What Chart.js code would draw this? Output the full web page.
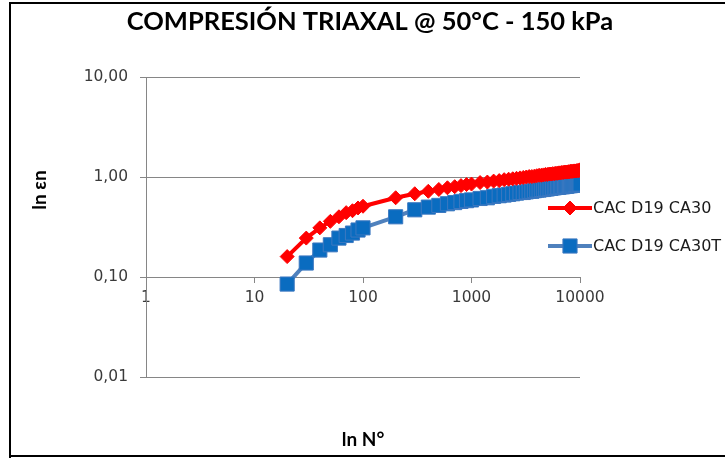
<!DOCTYPE html>
<html>
<head>
<meta charset="utf-8">
<script src="https://cdn.jsdelivr.net/npm/chart.js@4/dist/chart.umd.min.js"></script>
<style>
  body { margin: 0; background: #fff; }
  #wrap { position: relative; width: 725px; height: 458px; }
</style>
</head>
<body>
<div id="wrap"><canvas id="chartCompresion" width="725" height="458"></canvas></div>
<script>
// ciclos (N)
const ciclos = [20, 30, 40, 50, 60, 70, 80, 90, 100,
  200, 300, 400, 500, 600, 700, 800, 900,
  1000, 1200, 1400, 1600, 1800, 2000, 2200, 2400, 2600, 2800,
  3000, 3200, 3400, 3600, 3800, 4000, 4200, 4400, 4600, 4800,
  5000, 5200, 5400, 5600, 5800, 6000, 6200, 6400, 6600, 6800,
  7000, 7200, 7400, 7600, 7800, 8000, 8200, 8400, 8600, 8800,
  9000, 9200, 9400, 9600, 9800, 10000];

const ca30 = [0.16, 0.245, 0.31, 0.36, 0.40, 0.44, 0.46, 0.49, 0.51,
  0.62, 0.68, 0.72, 0.75, 0.78, 0.80, 0.82, 0.84,
  0.85, 0.88, 0.89, 0.91, 0.92, 0.94, 0.95, 0.96, 0.97, 0.98,
  0.99, 1.00, 1.01, 1.01, 1.02, 1.03, 1.04, 1.04, 1.05, 1.06,
  1.06, 1.07, 1.07, 1.08, 1.08, 1.09, 1.09, 1.10, 1.10, 1.11,
  1.11, 1.12, 1.12, 1.12, 1.13, 1.13, 1.14, 1.14, 1.14, 1.15,
  1.15, 1.15, 1.16, 1.16, 1.16, 1.18];

const ca30t = [0.085, 0.138, 0.186, 0.21, 0.245, 0.26, 0.275, 0.295, 0.31,
  0.40, 0.47, 0.50, 0.52, 0.54, 0.555, 0.57, 0.58,
  0.59, 0.61, 0.62, 0.64, 0.65, 0.66, 0.67, 0.68, 0.69, 0.70,
  0.70, 0.71, 0.72, 0.72, 0.73, 0.74, 0.74, 0.75, 0.75, 0.76,
  0.76, 0.77, 0.77, 0.78, 0.78, 0.79, 0.79, 0.79, 0.80, 0.80,
  0.80, 0.81, 0.81, 0.81, 0.82, 0.82, 0.82, 0.83, 0.83, 0.83,
  0.84, 0.84, 0.84, 0.84, 0.85, 0.85];

const xTicks = [1, 10, 100, 1000, 10000];
const yTicks = [0.01, 0.1, 1, 10];

const series = [
  { label: 'CAC D19 CA30', values: ca30, line: '#ff0000', fill: '#ff0000', border: '#ff0000', style: 'rectRot', radius: 7 },
  { label: 'CAC D19 CA30T', values: ca30t, line: '#4f81bd', fill: '#0a6cc0', border: '#3c78c0', style: 'rect', radius: 10 }
];

function toPoints(vals) {
  return ciclos.map((n, i) => ({ x: n, y: vals[i] }));
}

// titulo, ejes, leyenda y marco
const extras = {
  id: 'extras',
  afterDraw(chart) {
    const ctx = chart.ctx;
    ctx.save();
    ctx.fillStyle = '#000';
    ctx.fillRect(9, 2, 716, 2);
    ctx.fillRect(9, 2, 2, 456);
    ctx.fillRect(9, 455, 716, 2);

    ctx.fillStyle = '#000';
    ctx.textAlign = 'center';
    ctx.textBaseline = 'middle';
    ctx.font = 'bold 25.5px Lato';
    ctx.fillText('COMPRESIÓN TRIAXAL @ 50°C - 150 kPa', 370, 22);

    ctx.font = 'bold 19px Lato';
    ctx.fillText('ln N°', 363, 440);
    ctx.translate(40, 190);
    ctx.rotate(-Math.PI / 2);
    ctx.fillText('ln εn', 0, 0);
    ctx.restore();

    // leyenda
    ctx.save();
    ctx.font = '16px "DejaVu Sans"';
    ctx.textBaseline = 'middle';
    ctx.textAlign = 'left';
    const rows = [208, 246];
    series.forEach((s, i) => {
      const y = rows[i];
      ctx.strokeStyle = s.line;
      ctx.lineWidth = 4;
      ctx.beginPath();
      ctx.moveTo(548, y);
      ctx.lineTo(592, y);
      ctx.stroke();
      ctx.fillStyle = s.fill;
      ctx.strokeStyle = s.border;
      ctx.lineWidth = 1;
      Chart.helpers.drawPoint(ctx, { pointStyle: s.style, radius: s.radius, rotation: 0, borderWidth: 1 }, 570, y);
      ctx.fillStyle = '#1a1a1a';
      ctx.fillText(s.label, 593, y + 1);
    });
    ctx.restore();
  }
};

new Chart(document.getElementById('chartCompresion'), {
  type: 'scatter',
  data: {
    datasets: series.map(s => ({
      label: s.label,
      data: toPoints(s.values),
      showLine: true,
      borderColor: s.line,
      borderWidth: 4,
      backgroundColor: s.fill,
      pointBackgroundColor: s.fill,
      pointBorderColor: s.border,
      pointBorderWidth: 1,
      pointStyle: s.style,
      pointRadius: s.radius,
      tension: 0
    }))
  },
  options: {
    responsive: false,
    animation: false,
    layout: { padding: { top: 77, right: 145, bottom: 81, left: 0 } },
    plugins: {
      legend: { display: false },
      title: { display: false },
      tooltip: { enabled: false }
    },
    scales: {
      x: {
        type: 'logarithmic',
        position: { y: 0.1 },
        min: 1,
        max: 10000,
        afterBuildTicks: axis => { axis.ticks = xTicks.map(v => ({ value: v })); },
        ticks: {
          color: '#3a3a3a',
          font: { family: 'DejaVu Sans', size: 15.5 },
          padding: 7,
          maxRotation: 0,
          autoSkip: false,
          callback: v => String(v)
        },
        grid: { drawOnChartArea: false, drawTicks: true, tickLength: 5, color: '#868686' },
        border: { display: true, color: '#868686' }
      },
      y: {
        type: 'logarithmic',
        min: 0.01,
        max: 10,
        afterBuildTicks: axis => { axis.ticks = yTicks.map(v => ({ value: v })); },
        afterFit: axis => { axis.width = 146; },
        ticks: {
          color: '#3a3a3a',
          font: { family: 'DejaVu Sans', size: 15.5 },
          padding: 12,
          autoSkip: false,
          callback: v => v.toFixed(2).replace('.', ',')
        },
        grid: { color: '#868686', tickLength: 6 },
        border: { display: true, color: '#868686' }
      }
    }
  },
  plugins: [extras]
});
</script>
</body>
</html>
